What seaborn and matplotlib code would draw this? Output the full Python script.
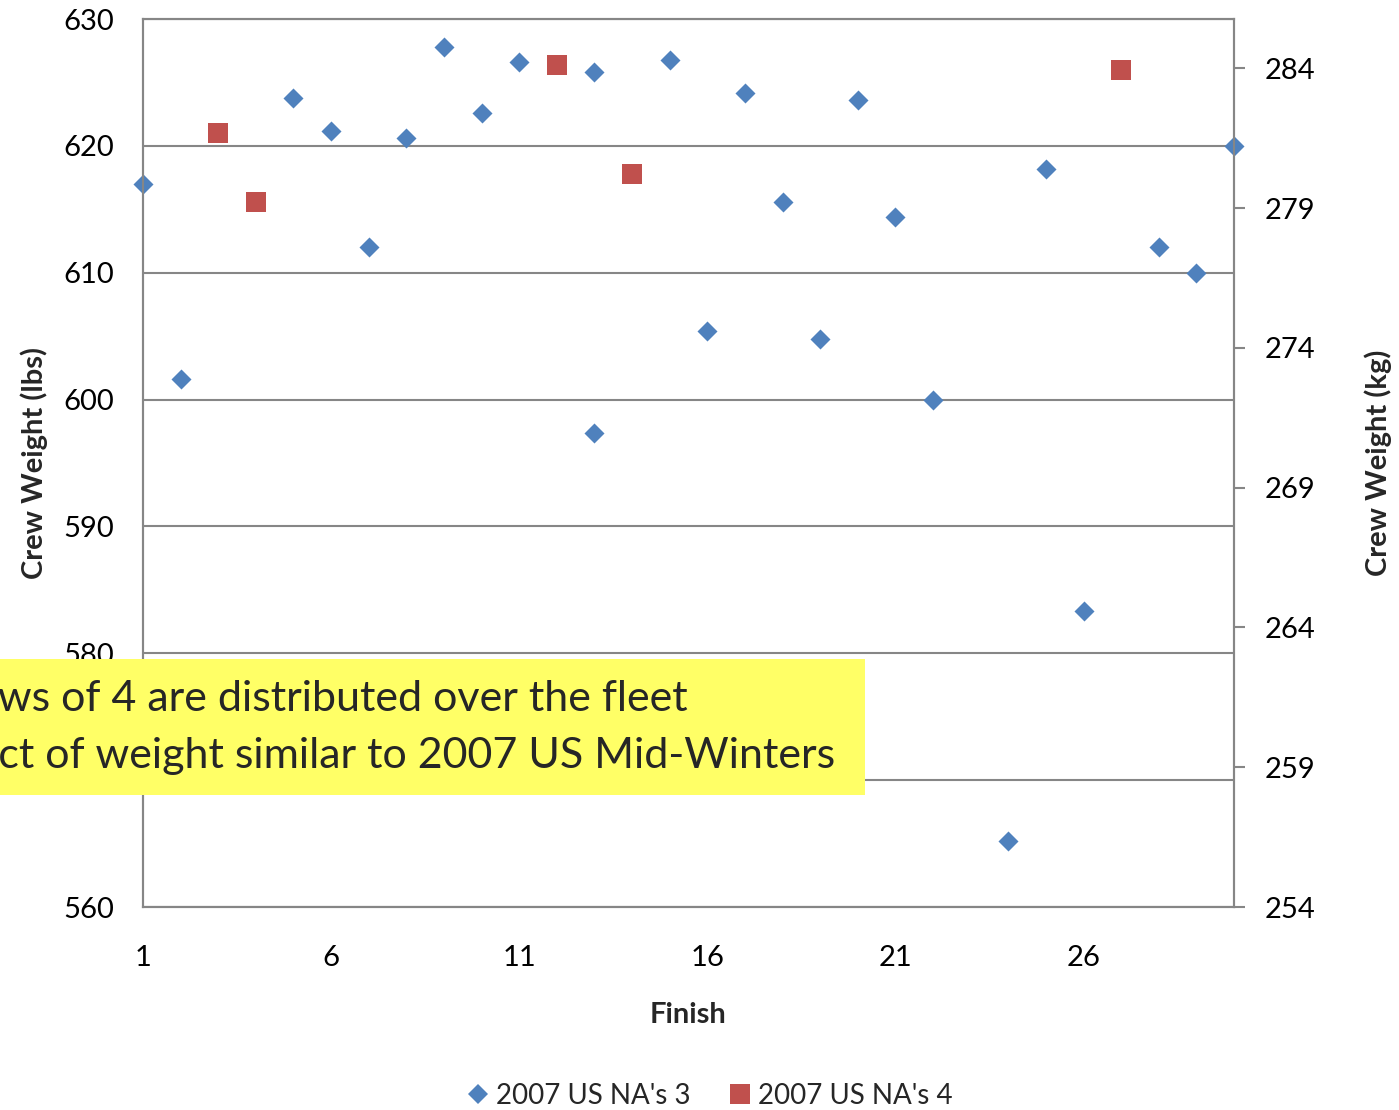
import matplotlib
matplotlib.use("Agg")
import matplotlib.pyplot as plt
import seaborn as sns
import pandas as pd
from matplotlib.patches import Rectangle
from matplotlib.lines import Line2D

sns.set_theme(style="white")
plt.rcParams['font.family'] = ['Lato', 'DejaVu Sans']

# Data
na3_finish = [1, 2, 5, 6, 7, 8, 9, 10, 11, 13, 13, 15, 16, 17, 18, 19, 20, 21, 22, 24, 25, 26, 28, 29, 30]
na3_weight = [617.0, 601.6, 623.8, 621.2, 612.0, 620.6, 627.8, 622.6, 626.6, 625.8, 597.4, 626.8,
              605.4, 624.2, 615.6, 604.8, 623.6, 614.4, 600.0, 565.2, 618.2, 583.3, 612.0, 610.0, 620.0]
na4_finish = [3, 4, 12, 14, 27]
na4_weight = [621.0, 615.6, 626.4, 617.8, 626.0]
series_names = ["2007 US NA's 3", "2007 US NA's 4"]
x_ticks = [1, 6, 11, 16, 21, 26]
y_ticks_lbs = [560, 570, 580, 590, 600, 610, 620, 630]
y_ticks_kg = [254, 259, 264, 269, 274, 279, 284]
note_lines = ["Crews of 4 are distributed over the fleet",
              "Effect of weight similar to 2007 US Mid-Winters"]

LB2KG = 0.45359237
blue = "#4F81BD"
red = "#C0504D"
gray = "#868686"

df = pd.DataFrame({
    "Finish": na3_finish + na4_finish,
    "Weight": na3_weight + na4_weight,
    "Series": [series_names[0]] * len(na3_finish) + [series_names[1]] * len(na4_finish),
})

fig = plt.figure(figsize=(13.99, 11.10), dpi=100)
ax = fig.add_axes([143/1399, (1110-907)/1110, (1234-143)/1399, (907-19)/1110])

sns.scatterplot(data=df[df.Series == series_names[0]], x="Finish", y="Weight", ax=ax,
                marker="D", s=104, color=blue, linewidth=0, legend=False, zorder=3, clip_on=False)
sns.scatterplot(data=df[df.Series == series_names[1]], x="Finish", y="Weight", ax=ax,
                marker="s", s=207, color=red, linewidth=0, legend=False, zorder=3, clip_on=False)

ax.set_xlim(1, 30)
ax.set_ylim(560, 630)
ax.set_xticks(x_ticks)
ax.set_yticks(y_ticks_lbs)
ax.yaxis.grid(True, color=gray, linewidth=1.5)
ax.set_axisbelow(True)
for sp in ax.spines.values():
    sp.set_color(gray)
    sp.set_linewidth(1.5)
ax.tick_params(axis='both', length=0, labelsize=21, colors='black')
ax.tick_params(axis='x', pad=27)
ax.tick_params(axis='y', pad=21)
ax.set_xlabel("Finish", fontsize=21, fontweight='bold', labelpad=23)
ax.set_ylabel("Crew Weight (lbs)", fontsize=21, fontweight='bold', labelpad=11)

ax2 = ax.twinx()
ax2.set_ylim(560 * LB2KG, 630 * LB2KG)
ax2.set_yticks(y_ticks_kg)
ax2.tick_params(axis='y', length=8, width=1.5, color=gray, labelsize=21, pad=14, labelcolor='black')
for sp in ax2.spines.values():
    sp.set_color(gray)
    sp.set_linewidth(1.5)
ax2.set_ylabel("Crew Weight (kg)", fontsize=21, fontweight='bold', labelpad=35)
ax2.grid(False)

# yellow note box
fig.patches.append(Rectangle((0, (1110-795)/1110), 865/1399, (795-659)/1110,
                             transform=fig.transFigure, facecolor="#FFFF66", edgecolor='none', zorder=10))
fig.text(688/1399, (1110-699)/1110, note_lines[0], ha='right', va='center', fontsize=31, zorder=11)
fig.text(835/1399, (1110-756)/1110, note_lines[1], ha='right', va='center', fontsize=31, zorder=11)

handles = [Line2D([], [], marker='D', linestyle='none', color=blue, markersize=10, markeredgewidth=0),
           Line2D([], [], marker='s', linestyle='none', color=red, markersize=14, markeredgewidth=0)]
fig.legend(handles, series_names, loc='center', bbox_to_anchor=(707/1399, (1110-1096)/1110),
           ncol=2, frameon=False, fontsize=20, handletextpad=0.05, columnspacing=1.2, handlelength=1.2)

fig.savefig("out.png", dpi=100)
